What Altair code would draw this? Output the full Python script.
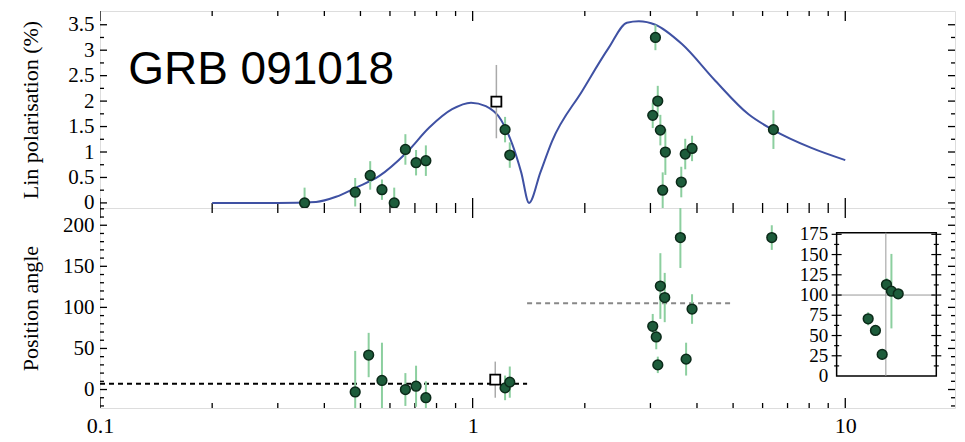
import altair as alt
import pandas as pd

# ---------------- data ----------------
curve_x = [0.2, 0.3, 0.38, 0.43, 0.486, 0.562, 0.663, 0.765, 0.881, 0.99, 1.085, 1.19, 1.278, 1.35, 1.417,
           1.52, 1.633, 1.968, 2.32, 2.593, 2.792, 3.094, 3.645, 4.478, 5.5, 6.415, 8.11, 10.0]
curve_y = [0.0, 0.0, 0.02, 0.12, 0.3, 0.53, 0.98, 1.48, 1.84, 1.97, 1.9, 1.64, 1.15, 0.6, 0.0,
           0.6, 1.21, 2.2, 3.05, 3.54, 3.57, 3.5, 3.12, 2.4, 1.74, 1.43, 1.08, 0.84]

pol_x = [0.354, 0.484, 0.531, 0.571, 0.616, 0.660, 0.705, 0.749, 1.222, 1.258,
         3.043, 3.094, 3.139, 3.19, 3.236, 3.29, 3.63, 3.72, 3.88, 6.415]
pol_y = [0.0, 0.21, 0.54, 0.26, 0.0, 1.05, 0.79, 0.83, 1.44, 0.94,
         1.72, 3.25, 2.0, 1.43, 0.25, 1.0, 0.41, 0.96, 1.07, 1.44]
pol_err = [0.3, 0.28, 0.28, 0.2, 0.3, 0.3, 0.25, 0.3, 0.25, 0.25,
           0.25, 0.25, 0.3, 0.3, 0.35, 0.45, 0.3, 0.3, 0.25, 0.38]
pol_sq_x = [1.158]
pol_sq_y = [1.99]
pol_sq_err = [0.72]

pa_x = [0.484, 0.526, 0.571, 0.660, 0.705, 0.749, 1.222, 1.258,
        3.043, 3.11, 3.14, 3.19, 3.277, 3.61, 3.74, 3.88, 6.35]
pa_y = [-3, 42, 11, 0, 4, -10, 2, 9,
        77, 64, 30, 126, 112, 185, 37, 98, 185]
pa_err = [50, 27, 46, 20, 25, 20, 15, 19,
          15, 15, 10, 40, 30, 37, 20, 18, 15]
pa_sq_x = [1.15]
pa_sq_y = [12]
pa_sq_err = [22]

# mean position-angle levels (dashed)
lvl_x1 = [0.1, 1.4]
lvl_x2 = [1.4, 5.0]
lvl_y = [7, 105]
lvl_col = ["#000000", "#888888"]

# inset (position angle, zoom)
ins_x = [11.52, 12.05, 12.56, 12.9, 13.3, 13.87]
ins_y = [70.7, 56.3, 26.7, 113, 104.8, 101.5]
ins_err = [8, 5, 4, 8, 46, 5]
ins_box_x = [9.48, 17.55]
ins_box_y = [0, 177]
ins_vline = 12.85
ins_hline = 100
ins_ticks = [0, 25, 50, 75, 100, 125, 150, 175]
ins_minor = [12.5, 37.5, 62.5, 87.5, 112.5, 137.5, 162.5]
ins_label_x = 9.0

title_text = "GRB 091018"
title_x, title_y = 0.119, 2.34

x_major = [0.1, 1, 10]
x_minor = [0.2, 0.3, 0.4, 0.5, 0.6, 0.7, 0.8, 0.9, 2, 3, 4, 5, 6, 7, 8, 9]
pol_major = [0, 0.5, 1, 1.5, 2, 2.5, 3, 3.5]
pol_minor = [0.25, 0.75, 1.25, 1.75, 2.25, 2.75, 3.25]
pa_major = [0, 50, 100, 150, 200]
pa_minor = [v for v in range(-20, 221, 10) if v % 50 != 0]

# ---------------- styling ----------------
SERIF = "Liberation Serif"
W, H_TOP, H_BOT = 855, 197, 200
X_DOM = [0.1, 19.7]
POL_DOM = [-0.1, 3.77]
PA_DOM = [-22.5, 221]
INS_DOM = [-39.5, 207.5]
ERR_C = "#8ccf9f"
PT_FILL = "#1d5c3b"
PT_STROKE = "#0b2a19"
CURVE_C = "#3f51a3"

xscale = alt.Scale(type="log", domain=X_DOM, nice=False)


def lab_x_axis():
    return alt.Axis(orient="bottom", values=x_major, format="~r", title=None, grid=False, ticks=False,
                    tickSize=0, domain=False, labelFont=SERIF, labelFontSize=22, labelColor="black",
                    labelPadding=7, labelFlush=False, labelOverlap=False)


def lab_y_axis(vals, title):
    return alt.Axis(orient="left", values=vals, format="~r", grid=False, ticks=False, tickSize=0,
                    domain=False, labelFont=SERIF, labelFontSize=21, labelColor="black", labelPadding=6,
                    labelFlush=False, labelOverlap=False,
                    title=title, titleFont=SERIF, titleFontSize=22, titleFontWeight="normal",
                    titleColor="black", titleX=-58, titleAngle=270, titleBaseline="bottom",
                    titleAlign="center")


def axis_layer(yscale, y_lab_vals, title, with_x_labels):
    d = pd.DataFrame({"x": [1.0], "y": [0.0]})
    return alt.Chart(d).mark_point(opacity=0).encode(
        x=alt.X("x:Q", scale=xscale, axis=lab_x_axis() if with_x_labels else None),
        y=alt.Y("y:Q", scale=yscale, axis=lab_y_axis(y_lab_vals, title)),
    )


def x_tick_layer(vals, length, edge, H):
    y0, y1 = (0, length) if edge == "top" else (H, H - length)
    return alt.Chart(pd.DataFrame({"x": vals})).mark_rule(color="black", strokeWidth=1.3, clip=True).encode(
        x=alt.X("x:Q", scale=xscale, axis=None), y=alt.value(y0), y2=alt.value(y1))


def y_tick_layer(vals, length, edge, yscale):
    x0, x1 = (0, length) if edge == "left" else (W, W - length)
    return alt.Chart(pd.DataFrame({"y": vals})).mark_rule(color="black", strokeWidth=1.3, clip=True).encode(
        y=alt.Y("y:Q", scale=yscale, axis=None), x=alt.value(x0), x2=alt.value(x1))


def frame_ticks(H, yscale, ymaj, ymin):
    out = []
    for edge in ("top", "bottom"):
        out.append(x_tick_layer(x_major, 10, edge, H))
        out.append(x_tick_layer(x_minor, 5, edge, H))
    for edge in ("left", "right"):
        out.append(y_tick_layer(ymaj, 7, edge, yscale))
        out.append(y_tick_layer(ymin, 4, edge, yscale))
    return out


# ---------------- top panel ----------------
curve_df = pd.DataFrame({"x": curve_x, "y": curve_y})
pol_df = pd.DataFrame({"x": pol_x, "y": pol_y, "e": pol_err})
pol_df["lo"] = pol_df["y"] - pol_df["e"]
pol_df["hi"] = pol_df["y"] + pol_df["e"]
polsq_df = pd.DataFrame({"x": pol_sq_x, "y": pol_sq_y, "e": pol_sq_err})
polsq_df["lo"] = polsq_df["y"] - polsq_df["e"]
polsq_df["hi"] = polsq_df["y"] + polsq_df["e"]
title_df = pd.DataFrame({"x": [title_x], "y": [title_y], "t": [title_text]})

py = alt.Scale(domain=POL_DOM, nice=False, zero=False)

curve = alt.Chart(curve_df).mark_line(color=CURVE_C, strokeWidth=2, interpolate="monotone", clip=True).encode(
    x=alt.X("x:Q", scale=xscale, axis=None),
    y=alt.Y("y:Q", scale=py, axis=None),
)
pol_err_l = alt.Chart(pol_df).mark_rule(color=ERR_C, strokeWidth=2, clip=True).encode(
    x=alt.X("x:Q", scale=xscale, axis=None),
    y=alt.Y("lo:Q", scale=py, axis=None), y2="hi:Q",
)
polsq_err_l = alt.Chart(polsq_df).mark_rule(color="#aaaaaa", strokeWidth=1.5, clip=True).encode(
    x=alt.X("x:Q", scale=xscale, axis=None),
    y=alt.Y("lo:Q", scale=py, axis=None), y2="hi:Q",
)
pol_pts = alt.Chart(pol_df).mark_point(shape="circle", filled=True, size=95, fill=PT_FILL, stroke=PT_STROKE,
                                       strokeWidth=1.5, opacity=1, clip=True).encode(
    x=alt.X("x:Q", scale=xscale, axis=None),
    y=alt.Y("y:Q", scale=py, axis=None),
)
polsq_pts = alt.Chart(polsq_df).mark_point(shape="square", filled=False, size=100, color="black",
                                           fill="white", strokeWidth=1.8, opacity=1).encode(
    x=alt.X("x:Q", scale=xscale, axis=None),
    y=alt.Y("y:Q", scale=py, axis=None),
)
title_t = alt.Chart(title_df).mark_text(font="Liberation Sans", fontSize=46, align="left",
                                         baseline="alphabetic", color="black").encode(
    x=alt.X("x:Q", scale=xscale, axis=None),
    y=alt.Y("y:Q", scale=py, axis=None),
    text="t:N",
)

top = alt.layer(
    axis_layer(py, pol_major, "Lin polarisation (%)", False),
    *frame_ticks(H_TOP, py, pol_major, pol_minor),
    curve, pol_err_l, polsq_err_l, pol_pts, polsq_pts, title_t
).resolve_axis(x="independent", y="independent").properties(width=W, height=H_TOP)

# ---------------- bottom panel ----------------
pa_df = pd.DataFrame({"x": pa_x, "y": pa_y, "e": pa_err})
pa_df["lo"] = pa_df["y"] - pa_df["e"]
pa_df["hi"] = pa_df["y"] + pa_df["e"]
pasq_df = pd.DataFrame({"x": pa_sq_x, "y": pa_sq_y, "e": pa_sq_err})
pasq_df["lo"] = pasq_df["y"] - pasq_df["e"]
pasq_df["hi"] = pasq_df["y"] + pasq_df["e"]
lvl_df = pd.DataFrame({"x": lvl_x1, "x2": lvl_x2, "y": lvl_y, "c": lvl_col})

ys = alt.Scale(domain=PA_DOM, nice=False, zero=False)
yi = alt.Scale(domain=INS_DOM, nice=False, zero=False)

lvl = alt.Chart(lvl_df).mark_rule(strokeDash=[5, 4], strokeWidth=2).encode(
    x=alt.X("x:Q", scale=xscale, axis=None), x2="x2:Q",
    y=alt.Y("y:Q", scale=ys, axis=None),
    color=alt.Color("c:N", scale=None),
)
pa_err_l = alt.Chart(pa_df).mark_rule(color=ERR_C, strokeWidth=2, clip=True).encode(
    x=alt.X("x:Q", scale=xscale, axis=None),
    y=alt.Y("lo:Q", scale=ys, axis=None), y2="hi:Q",
)
pasq_err_l = alt.Chart(pasq_df).mark_rule(color="#aaaaaa", strokeWidth=1.5, clip=True).encode(
    x=alt.X("x:Q", scale=xscale, axis=None),
    y=alt.Y("lo:Q", scale=ys, axis=None), y2="hi:Q",
)
pa_pts = alt.Chart(pa_df).mark_point(shape="circle", filled=True, size=95, fill=PT_FILL, stroke=PT_STROKE,
                                     strokeWidth=1.5, opacity=1, clip=True).encode(
    x=alt.X("x:Q", scale=xscale, axis=None),
    y=alt.Y("y:Q", scale=ys, axis=None),
)
pasq_pts = alt.Chart(pasq_df).mark_point(shape="square", filled=False, size=100, color="black",
                                         fill="white", strokeWidth=1.8, opacity=1).encode(
    x=alt.X("x:Q", scale=xscale, axis=None),
    y=alt.Y("y:Q", scale=ys, axis=None),
)

# inset
box_df = pd.DataFrame({"x": [ins_box_x[0]], "x2": [ins_box_x[1]], "y": [ins_box_y[0]], "y2": [ins_box_y[1]]})
hl_df = pd.DataFrame({"x": [ins_box_x[0]], "x2": [ins_box_x[1]], "y": [ins_hline]})
vl_df = pd.DataFrame({"x": [ins_vline], "y": [ins_box_y[0]], "y2": [ins_box_y[1]]})
ins_df = pd.DataFrame({"x": ins_x, "y": ins_y, "e": ins_err})
ins_df["lo"] = ins_df["y"] - ins_df["e"]
ins_df["hi"] = ins_df["y"] + ins_df["e"]
lab_df = pd.DataFrame({"x": [ins_label_x] * len(ins_ticks), "y": ins_ticks, "t": [str(v) for v in ins_ticks]})
itk_rows = [{"x": bx, "y": v, "k": k} for bx in ins_box_x
            for k, vals in (("maj", ins_ticks[1:]), ("min", ins_minor)) for v in vals]
itk_df = pd.DataFrame(itk_rows)

box = alt.Chart(box_df).mark_rect(fill="white", stroke="black", strokeWidth=1.5).encode(
    x=alt.X("x:Q", scale=xscale, axis=None), x2="x2:Q",
    y=alt.Y("y:Q", scale=yi, axis=None), y2="y2:Q",
)
hl = alt.Chart(hl_df).mark_rule(color="#999999", strokeWidth=1).encode(
    x=alt.X("x:Q", scale=xscale, axis=None), x2="x2:Q",
    y=alt.Y("y:Q", scale=yi, axis=None),
)
vl = alt.Chart(vl_df).mark_rule(color="#999999", strokeWidth=1).encode(
    x=alt.X("x:Q", scale=xscale, axis=None),
    y=alt.Y("y:Q", scale=yi, axis=None), y2="y2:Q",
)
itk_maj = alt.Chart(itk_df).transform_filter("datum.k == 'maj'").mark_tick(
    orient="horizontal", size=10, thickness=1.2, color="black", opacity=1).encode(
    x=alt.X("x:Q", scale=xscale, axis=None),
    y=alt.Y("y:Q", scale=yi, axis=None),
)
itk_min = alt.Chart(itk_df).transform_filter("datum.k == 'min'").mark_tick(
    orient="horizontal", size=5, thickness=1.2, color="black", opacity=1).encode(
    x=alt.X("x:Q", scale=xscale, axis=None),
    y=alt.Y("y:Q", scale=yi, axis=None),
)
ins_err_l = alt.Chart(ins_df).mark_rule(color=ERR_C, strokeWidth=2).encode(
    x=alt.X("x:Q", scale=xscale, axis=None),
    y=alt.Y("lo:Q", scale=yi, axis=None), y2="hi:Q",
)
ins_pts = alt.Chart(ins_df).mark_point(shape="circle", filled=True, size=95, fill=PT_FILL, stroke=PT_STROKE,
                                       strokeWidth=1.5, opacity=1).encode(
    x=alt.X("x:Q", scale=xscale, axis=None),
    y=alt.Y("y:Q", scale=yi, axis=None),
)
ins_lab = alt.Chart(lab_df).mark_text(font=SERIF, fontSize=19, align="right", baseline="middle",
                                       color="black").encode(
    x=alt.X("x:Q", scale=xscale, axis=None),
    y=alt.Y("y:Q", scale=yi, axis=None),
    text="t:N",
)

bottom = alt.layer(
    axis_layer(ys, pa_major, "Position angle", True),
    *frame_ticks(H_BOT, ys, pa_major, pa_minor),
    lvl, pa_err_l, pasq_err_l, pa_pts, pasq_pts,
    box, hl, vl, itk_maj, itk_min, ins_err_l, ins_pts, ins_lab
).resolve_scale(y="independent").resolve_axis(x="independent", y="independent").properties(
    width=W, height=H_BOT)

chart = alt.vconcat(top, bottom, spacing=0, bounds="flush").properties(
    padding={"left": 10, "top": 2, "right": 0, "bottom": 0}
).configure_view(stroke="black", strokeWidth=1.5).configure(background="white")

chart.save("out.html", embed_options={"renderer": "svg", "actions": False})
